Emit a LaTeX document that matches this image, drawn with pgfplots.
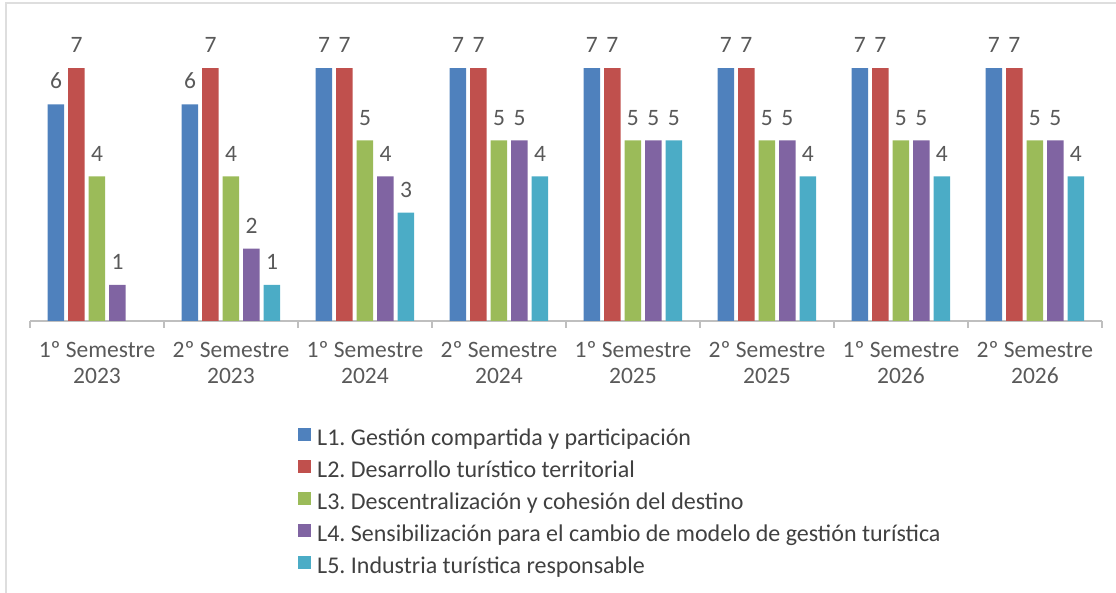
\documentclass[border=0pt]{standalone}
\usepackage{fontspec}
\setmainfont{Carlito}
\usepackage{pgfplots}
\pgfplotsset{compat=1.18}
\definecolor{cLa}{HTML}{4F81BD}
\definecolor{cLb}{HTML}{C0504D}
\definecolor{cLc}{HTML}{9BBB59}
\definecolor{cLd}{HTML}{8064A2}
\definecolor{cLe}{HTML}{4BACC6}
\definecolor{txt}{HTML}{595959}
\definecolor{legtxt}{HTML}{404040}
\definecolor{axgray}{HTML}{BFBFBF}
\frenchspacing
\begin{document}
\begin{tikzpicture}
\useasboundingbox (0,0) rectangle (1116pt,593pt);
\draw[black!13, line width=2.5pt] (6pt,0) -- (6pt,590pt) -- (1116pt,590pt);
\begin{axis}[
    at={(30pt,272pt)}, anchor=south west,
    width=1072pt, height=289pt, scale only axis,
    ybar=4pt, bar width=16.5pt,
    xmin=-0.5, xmax=7.5, ymin=0, ymax=8,
    axis x line*=bottom, axis y line=none,
    axis line style={axgray, line width=1.2pt},
    xtick={-0.5,0.5,...,7.5},
    x tick label as interval,
    xticklabels={{1º Semestre\\2023},{2º Semestre\\2023},{1º Semestre\\2024},{2º Semestre\\2024},
                 {1º Semestre\\2025},{2º Semestre\\2025},{1º Semestre\\2026},{2º Semestre\\2026}},
    tick align=outside, major tick length=7pt,
    tick style={axgray, line width=1.2pt},
    x tick label style={font=\fontsize{23.5}{26}\selectfont, text=txt, align=center, yshift=-10pt},
    /pgf/number format/assume math mode=true,
    nodes near coords,
    every node near coord/.append style={font=\fontsize{23.5}{26}\selectfont, text=txt,
        inner sep=0pt, anchor=south, yshift=15pt},
    legend cell align=left,
    legend style={at={(0.25,-0.370)}, anchor=north west, draw=none, fill=none,
        inner sep=0pt, row sep=10pt,
        font=\fontsize{24}{26}\selectfont, text=legtxt,
        nodes={inner sep=0pt, text height=13pt, text depth=5pt},
        /tikz/every odd column/.append style={column sep=6pt}},
    legend image code/.code={\fill[#1] (0pt,0pt) rectangle (13pt,13pt);},
]
\addplot[fill=cLa, draw=none] coordinates {(0,6) (1,6) (2,7) (3,7) (4,7) (5,7) (6,7) (7,7)};
\addplot[fill=cLb, draw=none] coordinates {(0,7) (1,7) (2,7) (3,7) (4,7) (5,7) (6,7) (7,7)};
\addplot[fill=cLc, draw=none] coordinates {(0,4) (1,4) (2,5) (3,5) (4,5) (5,5) (6,5) (7,5)};
\addplot[fill=cLd, draw=none] coordinates {(0,1) (1,2) (2,4) (3,5) (4,5) (5,5) (6,5) (7,5)};
\addplot[fill=cLe, draw=none] coordinates {(1,1) (2,3) (3,4) (4,5) (5,4) (6,4) (7,4)};
\legend{L1. Gestión compartida y participación,
        L2. Desarrollo turístico territorial,
        L3. Descentralización y cohesión del destino,
        L4. Sensibilización para el cambio de modelo de gestión turística,
        L5. Industria turística responsable}
\end{axis}
\end{tikzpicture}
\end{document}
